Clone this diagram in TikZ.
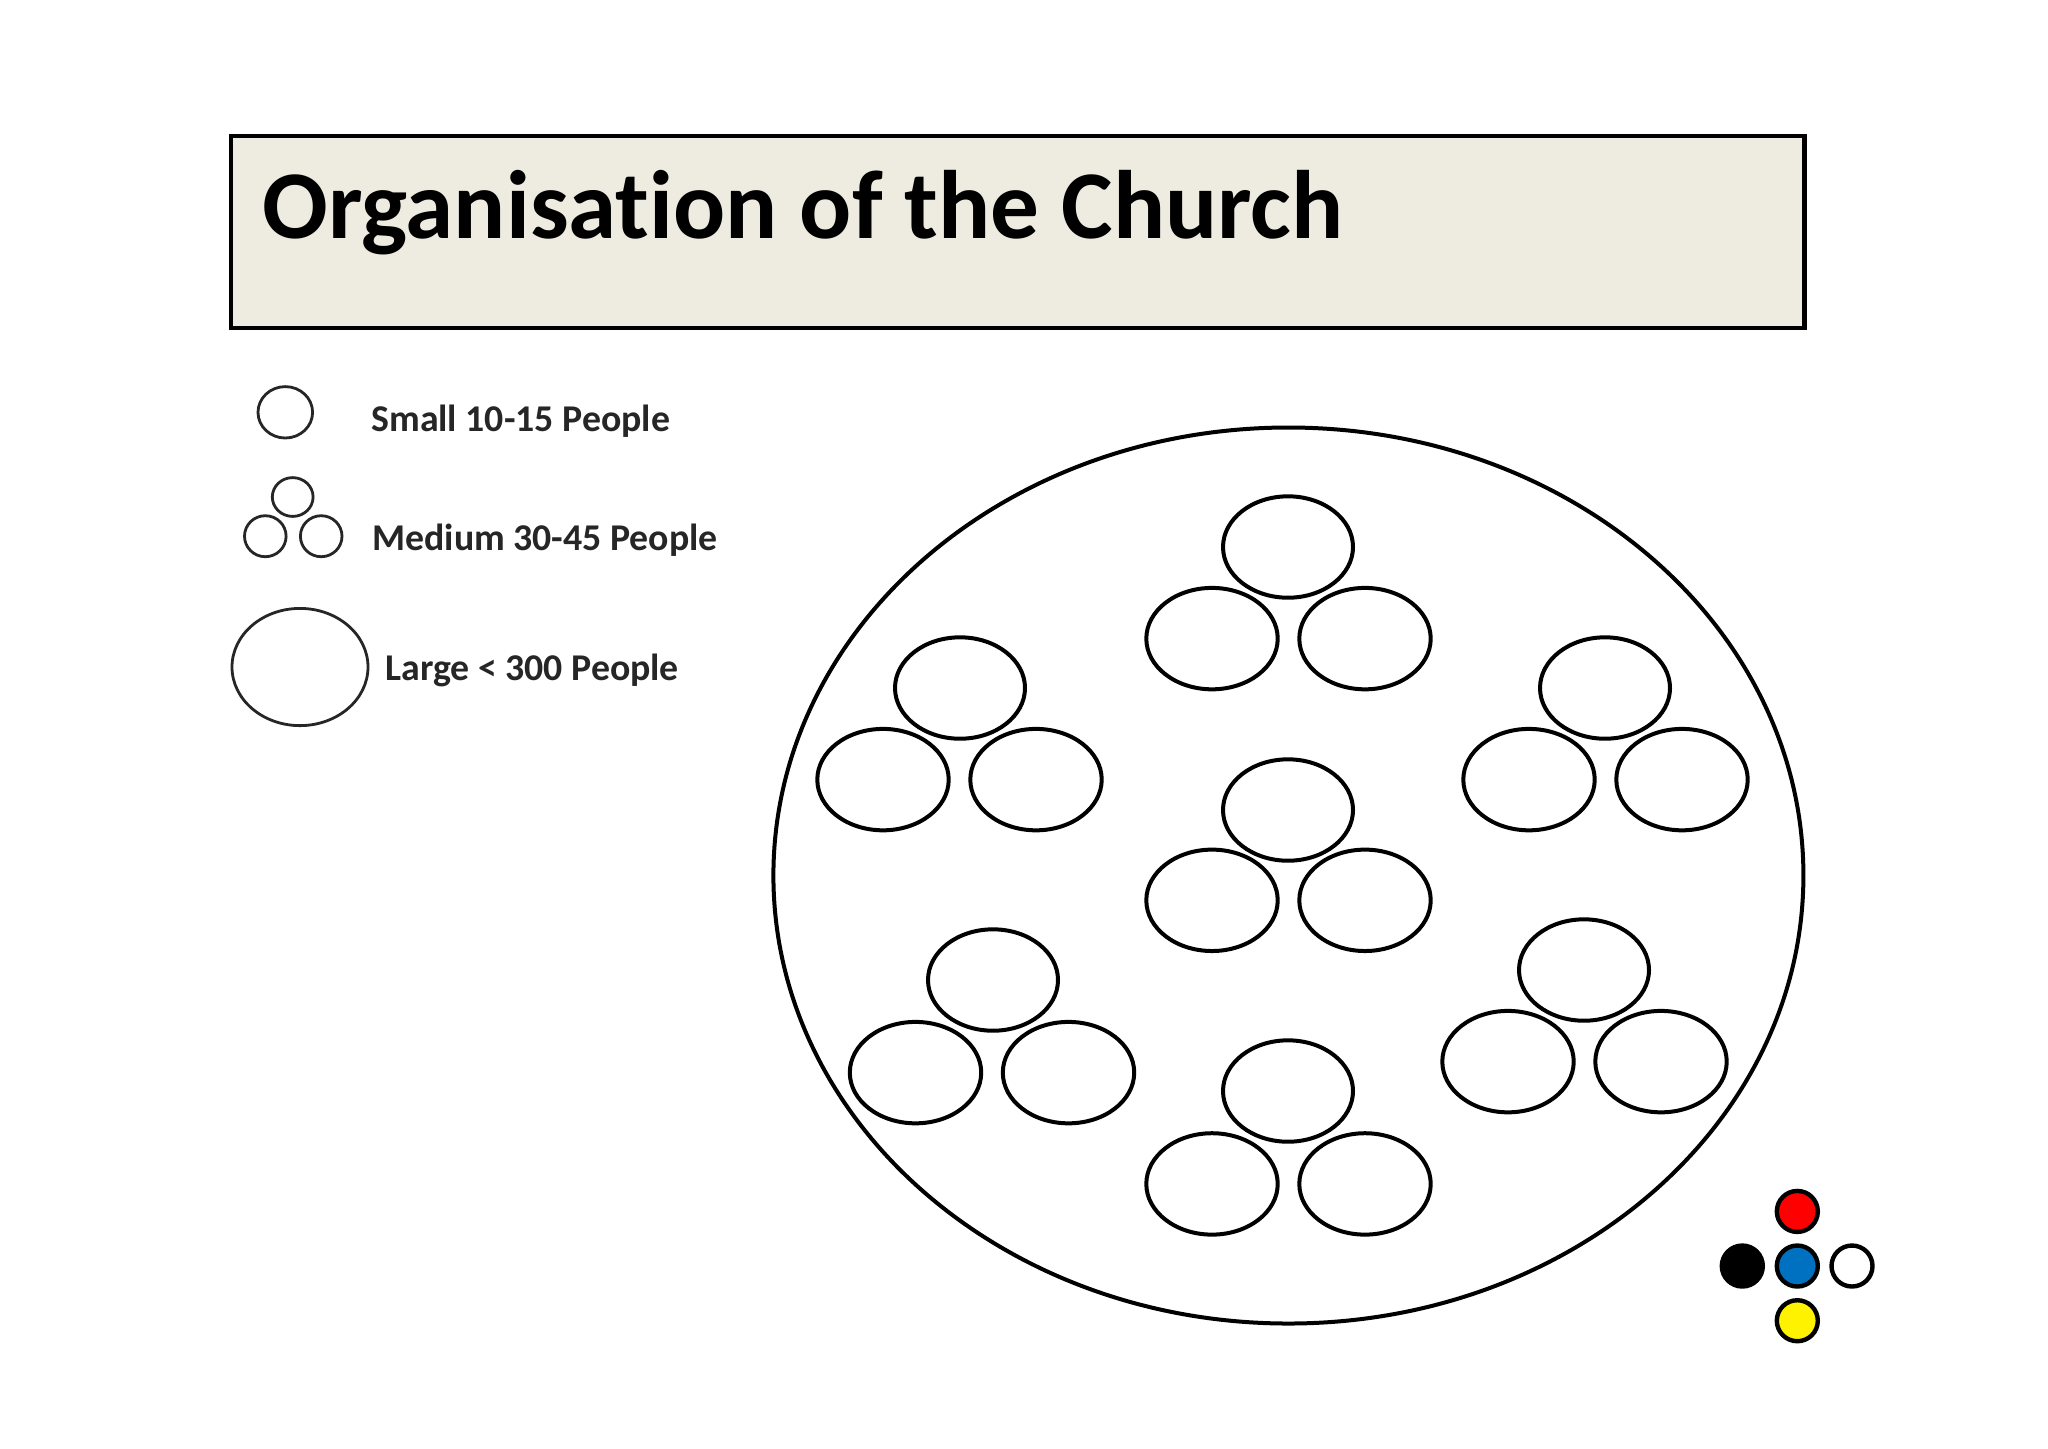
\documentclass[tikz,border=0pt]{standalone}
\usepackage{fontspec}
\setmainfont{Carlito}[Ligatures={NoCommon}]
\definecolor{titlefill}{HTML}{EEECE1}
\definecolor{dotblue}{HTML}{0070C0}
\tikzset{
  ring/.style={draw=black,line width=2pt,fill=none},
  thinring/.style={draw=black!85,line width=1.4pt,fill=none},
  dot/.style={draw=black,line width=2.2pt},
  legendtext/.style={anchor=base west,inner sep=0pt,font=\fontsize{18.9}{22}\selectfont\bfseries,text=black!85},
}
% #1,#2 centre of the upper ellipse; #3,#4 offset of the lower row
\newcommand{\triad}[4]{%
  \draw[ring] (#1,#2) ellipse [x radius=65,y radius=50.7];
  \draw[ring] (#1-76+#3,#2+91.6+#4) ellipse [x radius=65.7,y radius=50.7];
  \draw[ring] (#1+77+#3,#2+91.6+#4) ellipse [x radius=65.7,y radius=50.7];
}
\begin{document}
\begin{tikzpicture}[x=0.5pt,y=-0.5pt]
\useasboundingbox (0,0) rectangle (2048,1448);
\fill[white] (0,0) rectangle (2048,1448);
\draw[fill=titlefill,draw=black,line width=2.2pt] (231,136) rectangle (1804.5,328);
\node[anchor=base west,inner sep=0pt,font=\fontsize{48.6}{58}\selectfont\bfseries] (title) at (262,238) {Organisation of the Church};
% legend
\draw[thinring] (285.3,412.3) ellipse [x radius=27.3,y radius=25.7];
\draw[thinring] (292.7,497) ellipse [x radius=20.4,y radius=19.4];
\draw[thinring] (265.3,536.2) ellipse [x radius=20.8,y radius=20.5];
\draw[thinring] (321.2,536.2) ellipse [x radius=20.8,y radius=20.5];
\draw[thinring] (300,667) ellipse [x radius=68,y radius=58.6];
\node[legendtext] (small) at (371,431) {Small 10-15 People};
\node[legendtext] (medium) at (372,550.5) {Medium 30-45 People};
\node[legendtext] (large) at (385,680) {Large < 300 People};
% big circle
\draw[ring] (1288.4,875.5) ellipse [x radius=515,y radius=448];
\triad{1288}{547}{0}{0}
\triad{960}{688}{-1}{0}
\triad{1605}{688}{0}{0}
\triad{1288}{810}{0}{-1.3}
\triad{993}{980}{-1.5}{1}
\triad{1584}{970}{0}{0}
\triad{1288}{1091}{0}{1.3}
% coloured dots
\draw[dot,fill=red] (1797.3,1211.4) circle [radius=20.5];
\draw[dot,fill=dotblue] (1797.3,1266) circle [radius=20.5];
\draw[dot,fill=yellow] (1797.3,1320.7) circle [radius=20.5];
\draw[dot,fill=black] (1742.3,1266) circle [radius=20.5];
\draw[dot,fill=white] (1852,1266) circle [radius=20.5];
\end{tikzpicture}
\end{document}
